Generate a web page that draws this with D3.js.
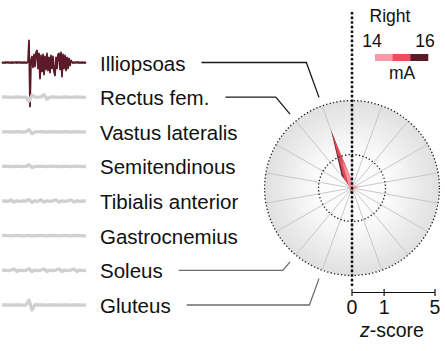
<!DOCTYPE html>
<html>
<head>
<meta charset="utf-8">
<script src="https://cdn.jsdelivr.net/npm/d3@7"></script>
<style>
  body { margin: 0; background: #fff; }
  svg text { font-family: "Liberation Sans", Arial, Helvetica, sans-serif; fill: #111; }
</style>
</head>
<body>
<div class="root"></div>
<script>
// muscles (right leg) and the spoke each one sits on
var muscles = ["Illiopsoas", "Rectus fem.", "Vastus lateralis", "Semitendinous",
               "Tibialis anterior", "Gastrocnemius", "Soleus", "Gluteus"];
var muscleSpoke = [17, 16, 15, 14, 13, 12, 11, 10];
var leaderMuscles = ["Illiopsoas", "Rectus fem.", "Soleus", "Gluteus"];

// stimulation amplitudes for the legend
var currents = [14, 15, 16];
var currentColors = ["#f59aa6", "#ee4d5d", "#5c1a28"];

// z-scores per spoke (18 spokes, clockwise from top), one list per amplitude
var zRight14 = [0.2, 0.06, 0.06, 0.08, 0.19, 0.06, 0.05, 0.05, 0.05, 0.06, 0.1, 0.05, 0.05, 0.05, 0.06, 0.08, 0.14, 0.9];
var zRight15 = [0.18, 0.04, 0.04, 0.05, 0.1, 0.04, 0.04, 0.04, 0.04, 0.05, 0.08, 0.05, 0.04, 0.04, 0.05, 0.07, 0.3, 2.5];
var zRight16 = [0.12, 0.03, 0.03, 0.04, 0.05, 0.03, 0.03, 0.03, 0.05, 0.1, 0.12, 0.04, 0.03, 0.03, 0.04, 0.06, 0.42, 2.78];

// radial grid rings and scale bar ticks (z-score)
var gridRings = [1.06, 5.6];
var axisTicks = [0, 1, 5];

// EMG traces
var emgIlliopsoas = [0.5,-0.5,0.4,-0.6,0.5,-0.4,0.6,-0.5,0.4,-0.5,0.5,-0.6,0.4,-0.4,0.5,-0.5,0.6,-0.4,0.5,-0.5,0.4,-0.6,0.5,-0.5,0.4,-0.5,0.6,
  22,-44,2,6,-5,8,-4,10,12,-6,9,-16,7,-9,8,-12,6,-7,9,-8,5,-10,7,-6,6,-9,-13,5,-6,8,9,-7,10,-14,8,-6,7,-8,5,-6,4,-3,2,
  0.5,-0.5,0.4,-0.5,0.6,-0.4,0.5,-0.5,0.4,-0.6,0.5,-0.5,0.4,-0.5,0.5];
var emgRectus   = [0,0.2,0,-0.2,0,0.2,0,-0.2,0,-4,2,0,0,0.3,2.5,-2,0,0.2,0,-0.2,0,0.2,0,-0.2,0,0.2,0,-0.2,0];
var emgVastus   = [0,0.2,0,-0.2,0,0.2,0,-0.2,0,2.2,-2,0,0,0.2,0,-0.2,0,0.2,0,-0.2,0,0.2,0,-0.2,0,0.2,0,-0.2,0];
var emgSemiten  = [0,0.2,0,-0.2,0,0.2,0,-0.2,0,1.6,-1.2,0,0,0.2,0,-0.2,0,0.2,0,-0.2,0,0.2,0,-0.2,0,0.2,0,-0.2,0];
var emgTibialis = [0,0.3,-0.3,1.2,-1,0.3,-0.3,0.3,0,1.5,-1.2,0.3,-0.3,1.3,-1,0.3,-0.3,0.3,1.3,-1,0.3,-0.3,0.3,1.2,-1,0.3,-0.3,0.3,0];
var emgGastroc  = [0,0.2,0,-0.2,0,0.2,0,-0.2,0,0.3,-0.3,0,0,0.2,0,-0.2,0,0.2,0,-0.2,0,0.2,0,-0.2,0,0.2,0,-0.2,0];
var emgSoleus   = [0,0.3,-0.3,0.3,1.4,-1.2,0.3,-0.3,0,1.6,-1.3,0.3,-0.3,0.3,1.4,-1.2,0.3,-0.3,0.3,1.4,-1.2,0.3,-0.3,0.3,1.3,-1.1,0.3,-0.3,0];
var emgGluteus  = [0,0.2,0,-0.2,0,0.2,0,-0.2,0,5,-5,0.4,0,0.2,0,-0.2,0,0.2,0,-0.2,0,0.2,0,-0.2,0,0.2,0,-0.2,0];

var emgTraces = [emgIlliopsoas, emgRectus, emgVastus, emgSemiten, emgTibialis, emgGastroc, emgSoleus, emgGluteus];
var activeMuscle = "Illiopsoas";

// DATA ONLY ^^^

var width = 445, height = 351;
var cx = 352, cy = 188;

var svg = d3.select(".root").append("svg")
  .attr("width", width)
  .attr("height", height);

var rowY = d3.scalePoint().domain(muscles).range([62.5, 305]);
var r = d3.scaleSymlog().domain([0, 5]).range([0, 83]);

// ---- EMG traces ----
var emgY = d3.scaleLinear().domain([-10, 10]).range([10, -10]);

muscles.forEach(function (m, i) {
  var vals = emgTraces[i];
  var x = d3.scaleLinear().domain([0, vals.length - 1]).range([2, 86]);
  var line = d3.line()
    .x(function (d, j) { return x(j); })
    .y(function (d) { return rowY(m) + emgY(d); });
  var active = m === activeMuscle;
  svg.append("path")
    .datum(vals)
    .attr("d", line)
    .attr("fill", "none")
    .attr("stroke", active ? "#5c1a28" : "#d0d0d0")
    .attr("stroke-width", active ? 1.8 : 3.3)
    .attr("stroke-linejoin", "round");
});

// ---- labels ----
var labels = svg.append("g").selectAll("text")
  .data(muscles)
  .enter()
  .append("text")
  .attr("x", 100)
  .attr("y", function (d) { return rowY(d) + 8; })
  .attr("font-size", 20.5)
  .text(function (d) { return d; });

// ---- disk ----
var defs = svg.append("defs");
var grad = defs.append("radialGradient").attr("id", "disk");
grad.append("stop").attr("offset", "0%").attr("stop-color", "#ffffff");
grad.append("stop").attr("offset", "45%").attr("stop-color", "#fafafa");
grad.append("stop").attr("offset", "100%").attr("stop-color", "#e0e0e0");

var radar = svg.append("g").attr("transform", "translate(" + cx + "," + cy + ")");

radar.append("circle")
  .attr("r", r(gridRings[1]))
  .attr("fill", "url(#disk)");

var spokes = d3.range(18).map(function (i) { return i * 20 * Math.PI / 180; });

radar.selectAll("line.spoke")
  .data(spokes)
  .enter()
  .append("line")
  .attr("class", "spoke")
  .attr("x1", 0).attr("y1", 0)
  .attr("x2", function (a) { return r(gridRings[1]) * Math.sin(a); })
  .attr("y2", function (a) { return -r(gridRings[1]) * Math.cos(a); })
  .attr("stroke", "#c8c8c8")
  .attr("stroke-width", 1);

// response layers
var radial = d3.lineRadial()
  .angle(function (d, i) { return spokes[i]; })
  .radius(function (d) { return r(d); })
  .curve(d3.curveLinearClosed);

var layers = [zRight16, zRight15, zRight14];
var layerColors = [currentColors[2], currentColors[1], currentColors[0]];

radar.selectAll("path.layer")
  .data(layers)
  .enter()
  .append("path")
  .attr("class", "layer")
  .attr("d", radial)
  .attr("fill", function (d, i) { return layerColors[i]; })
  .attr("fill-opacity", 0.92);

radar.selectAll("circle.ring")
  .data(gridRings)
  .enter()
  .append("circle")
  .attr("class", "ring")
  .attr("r", function (d) { return r(d); })
  .attr("fill", "none")
  .attr("stroke", "#1a1a1a")
  .attr("stroke-width", 1.3)
  .attr("stroke-dasharray", "1.3,2.2");

// midline
svg.append("line")
  .attr("x1", cx).attr("x2", cx)
  .attr("y1", 12).attr("y2", 287)
  .attr("stroke", "#111")
  .attr("stroke-width", 2.5)
  .attr("stroke-dasharray", "2.6,2");

// ---- leader lines ----
var leaderStart = r(gridRings[1]) + 9;
labels.filter(function (d) { return leaderMuscles.indexOf(d) >= 0; })
  .each(function (d) {
    var i = muscles.indexOf(d);
    var a = spokes[muscleSpoke[i]];
    var y = rowY(d);
    var rk = (cy - y) / Math.cos(a);
    var textEnd = 100 + this.getComputedTextLength() + 16;
    var pts = [
      [textEnd, y],
      [cx + rk * Math.sin(a), y],
      [cx + leaderStart * Math.sin(a), cy - leaderStart * Math.cos(a)]
    ];
    svg.append("path")
      .attr("d", d3.line()(pts))
      .attr("fill", "none")
      .attr("stroke", y < cy ? "#1a1a1a" : "#6e6e6e")
      .attr("stroke-width", 1.3);
  });

// ---- z-score scale bar ----
var axisY = 292.5;
var axisG = svg.append("g").attr("transform", "translate(" + cx + "," + axisY + ")");
axisG.append("line")
  .attr("x1", r(0)).attr("x2", r(5))
  .attr("stroke", "#111").attr("stroke-width", 1.2);
axisG.selectAll("line.tick")
  .data(axisTicks)
  .enter()
  .append("line")
  .attr("class", "tick")
  .attr("x1", function (d) { return r(d); })
  .attr("x2", function (d) { return r(d); })
  .attr("y1", -3.5).attr("y2", 3.5)
  .attr("stroke", "#111").attr("stroke-width", 1.2);
axisG.selectAll("text")
  .data(axisTicks)
  .enter()
  .append("text")
  .attr("x", function (d) { return r(d); })
  .attr("y", 21.5)
  .attr("text-anchor", "middle")
  .attr("font-size", 19.5)
  .text(function (d) { return d; });

var zt = svg.append("text")
  .attr("x", 392)
  .attr("y", 337)
  .attr("text-anchor", "middle")
  .attr("font-size", 19.5);
zt.append("tspan").attr("font-style", "italic").text("z");
zt.append("tspan").text("-score");

// ---- legend ----
svg.append("text")
  .attr("x", 390).attr("y", 22)
  .attr("text-anchor", "middle")
  .attr("font-size", 17.5)
  .text("Right");

var legX = d3.scaleBand().domain(currents).range([375, 428]);
svg.selectAll("rect.leg")
  .data(currents)
  .enter()
  .append("rect")
  .attr("class", "leg")
  .attr("x", function (d) { return legX(d); })
  .attr("y", 54)
  .attr("width", legX.bandwidth() + 0.3)
  .attr("height", 7)
  .attr("fill", function (d, i) { return currentColors[i]; });

svg.append("text")
  .attr("x", legX(currents[0]) - 3).attr("y", 47)
  .attr("text-anchor", "middle")
  .attr("font-size", 17.5)
  .text(currents[0]);
svg.append("text")
  .attr("x", legX(currents[2]) + legX.bandwidth() - 3).attr("y", 47)
  .attr("text-anchor", "middle")
  .attr("font-size", 17.5)
  .text(currents[2]);
svg.append("text")
  .attr("x", 402).attr("y", 79)
  .attr("text-anchor", "middle")
  .attr("font-size", 17.5)
  .text("mA");
</script>
</body>
</html>
